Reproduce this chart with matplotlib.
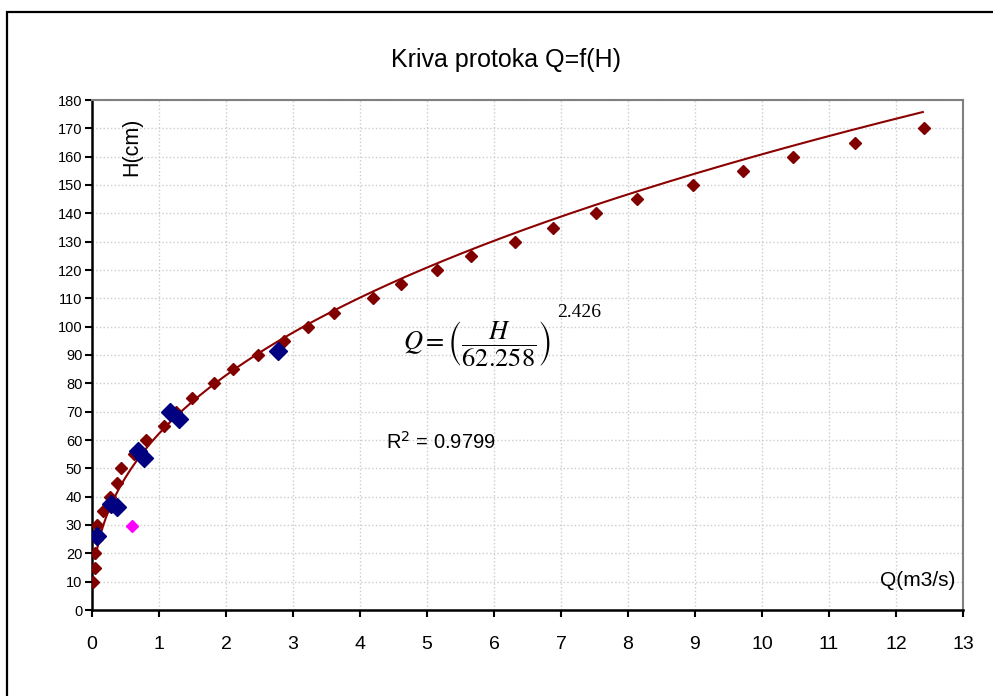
import numpy as np
from matplotlib import pyplot as plt
from matplotlib.patches import Rectangle

# measured points (Q in m3/s, H in cm)
q_red = [0.02, 0.05, 0.05, 0.08, 0.08, 0.17, 0.27, 0.38, 0.44, 0.62, 0.81, 1.07, 1.25,
         1.49, 1.82, 2.10, 2.48, 2.87, 3.22, 3.61, 4.19, 4.61, 5.15, 5.66, 6.31, 6.88,
         7.52, 8.13, 8.97, 9.72, 10.46, 11.39, 12.42]
h_red = [10, 15, 20, 25, 30, 35, 40, 45, 50, 55, 60, 65, 70,
         75, 80, 85, 90, 95, 100, 105, 110, 115, 120, 125, 130, 135,
         140, 145, 150, 155, 160, 165, 170]

q_blue = [0.08, 0.29, 0.38, 0.69, 0.78, 1.17, 1.30, 2.78]
h_blue = [26, 37.5, 36.5, 56, 53.5, 70, 67.5, 91.5]

q_pink = [0.59]
h_pink = [29.5]

# power trendline Q = (H / a) ** b
fit_a = 62.258
fit_b = 2.426
fit_r2 = 0.9799
fit_qmin, fit_qmax = 0.05, 12.4

x_ticks = list(range(0, 14))
y_ticks = list(range(0, 181, 10))

plt.rcParams['font.family'] = ['Liberation Sans', 'DejaVu Sans']
plt.rcParams['mathtext.fontset'] = 'stix'

fig = plt.figure(figsize=(9.93, 6.96), dpi=100)
ax = fig.add_axes([92 / 993, 1 - 610 / 696, (963 - 92) / 993, (610 - 100) / 696])

# outer chart frame
fig.patches.append(Rectangle((7 / 993, -0.1), 1.2, 1.1 - 12 / 696,
                             transform=fig.transFigure, fill=False,
                             edgecolor='black', linewidth=1.6))

ax.plot(q_red, h_red, 'D', color='#800000', markersize=6.5, zorder=3)

q_fit = np.linspace(fit_qmin, fit_qmax, 400)
h_fit = fit_a * q_fit ** (1 / fit_b)
ax.plot(q_fit, h_fit, color='#8B0000', linewidth=1.5, zorder=4)

ax.plot(q_blue, h_blue, 'D', color='#000080', markersize=9, zorder=5)
ax.plot(q_pink, h_pink, 'D', color='#FF00FF', markersize=6, zorder=5)

ax.set_xlim(0, 13)
ax.set_ylim(0, 180)
ax.set_xticks(x_ticks)
ax.set_yticks(y_ticks)
ax.grid(True, color='#cccccc', linestyle=':', linewidth=1.0)
ax.set_axisbelow(True)

for s in ['top', 'right']:
    ax.spines[s].set_color('#808080')
    ax.spines[s].set_linewidth(1.5)
for s in ['left', 'bottom']:
    ax.spines[s].set_color('black')
    ax.spines[s].set_linewidth(1.8)

ax.tick_params(axis='x', direction='out', length=5, width=1.5, pad=14, labelsize=14)
ax.tick_params(axis='y', direction='out', length=5, width=1.5, pad=2, labelsize=10.5)

fig.text(0.51, 0.914, 'Kriva protoka Q=f(H)', ha='center', va='center', fontsize=18)

ax.text(0.6, 163.5, 'H(cm)', rotation=90, ha='center', va='center', fontsize=15.5)
ax.text(12.88, 10.5, 'Q(m3/s)', ha='right', va='center', fontsize=15)

# trendline equation
ax.text(4.64, 94.2, r'$Q=\left(\dfrac{H}{62.258}\right)$', ha='left', va='center',
        fontsize=19)
ax.text(6.94, 105, '%.3f' % fit_b, ha='left', va='center', fontsize=14,
        family='Liberation Serif')
ax.text(4.39, 59.5, 'R$^2$ = %.4f' % fit_r2, ha='left', va='center', fontsize=14.5,
        math_fontfamily='dejavusans')

fig.savefig('out.png', dpi=100)
